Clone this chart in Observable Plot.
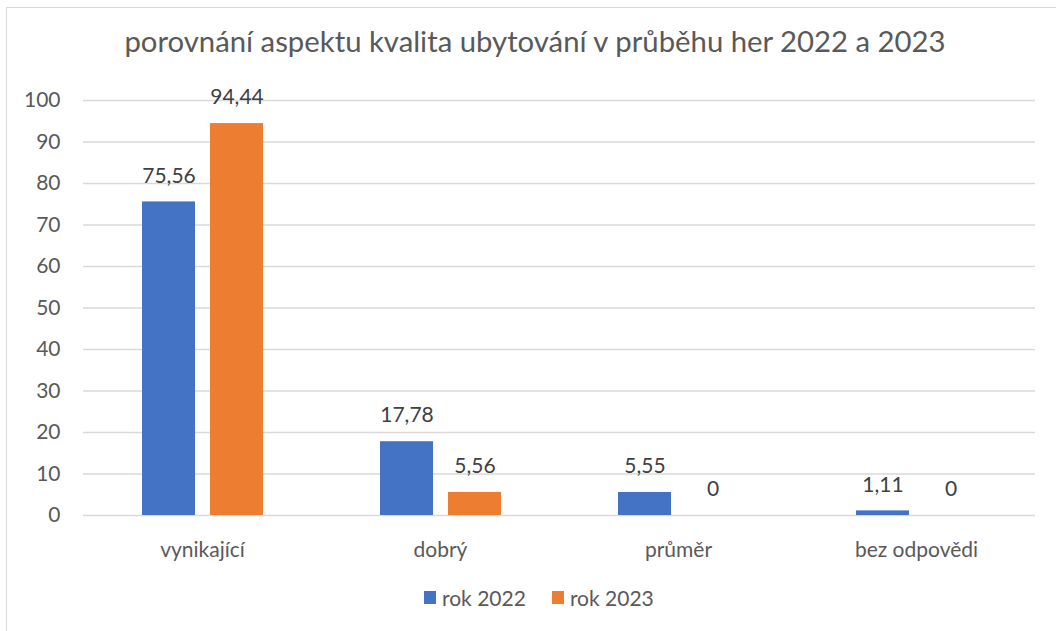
<!DOCTYPE html>
<html>
<head>
<meta charset="utf-8">
<script src="https://cdn.jsdelivr.net/npm/d3@7"></script>
<script src="https://cdn.jsdelivr.net/npm/@observablehq/plot@0.6"></script>
<style>
  html, body { margin: 0; padding: 0; background: #fff; overflow: hidden; }
  #wrap { position: relative; width: 1056px; height: 631px; overflow: hidden; font-family: Lato, sans-serif; color: #595959; }
  #frame { position: absolute; left: 6px; top: 7px; width: 1100px; height: 700px; border: 1px solid #d9d9d9; box-sizing: border-box; }
  #title { position: absolute; left: 0; width: 1070px; top: 23px; text-align: center; font-size: 29.3px; white-space: nowrap; }
  #chart { position: absolute; left: 0; top: 0; }
  #legend { position: absolute; top: 585px; left: 424px; font-size: 21px; white-space: nowrap; display: flex; align-items: center; }
  .sw { display: inline-block; width: 12px; height: 13px; margin-right: 6px; }
  .item { display: inline-flex; align-items: center; margin-right: 26px; }
</style>
</head>
<body>
<div id="wrap">
  <div id="frame"></div>
  <div id="title"></div>
  <div id="chart"></div>
  <div id="legend"></div>
</div>
<script>
const title = "porovnání aspektu kvalita ubytování v průběhu her 2022 a 2023";
const categories = ["vynikající", "dobrý", "průměr", "bez odpovědi"];
const series = ["rok 2022", "rok 2023"];
const values2022 = [75.56, 17.78, 5.55, 1.11];
const values2023 = [94.44, 5.56, 0, 0];
const colors = ["#4472C4", "#ED7D31"];
const yTicks = [0, 10, 20, 30, 40, 50, 60, 70, 80, 90, 100];

const data = [];
categories.forEach((c, i) => {
  data.push({cat: c, series: series[0], value: values2022[i]});
  data.push({cat: c, series: series[1], value: values2023[i]});
});
const fmt = v => String(v).replace(".", ",");

document.getElementById("title").textContent = title;

const plot = Plot.plot({
  width: 1056,
  height: 631,
  marginLeft: 83,
  marginRight: 21,
  marginTop: 100,
  marginBottom: 116,
  style: {fontFamily: "Lato, sans-serif", fontSize: "21px", color: "#595959", background: "transparent"},
  fx: {domain: categories, padding: 0, label: null},
  x: {domain: series, paddingInner: 0.2206, paddingOuter: 0.853, axis: null},
  y: {domain: [0, 100], label: null},
  color: {domain: series, range: colors},
  marks: [
    Plot.gridY(yTicks, {stroke: "#d9d9d9", strokeOpacity: 1, strokeWidth: 1.3}),
    Plot.axisY(yTicks, {tickSize: 0, tickPadding: 23, label: null, fill: "#595959", fontSize: 21}),
    Plot.axisFx({anchor: "bottom", tickSize: 0, tickPadding: 27, label: null, fill: "#595959", fontSize: 21}),
    Plot.barY(data, {fx: "cat", x: "series", y: "value", fill: "series"}),
    Plot.text(data, {fx: "cat", x: "series", y: "value", text: d => fmt(d.value), dy: -26, fill: "#404040", fontSize: 21})
  ]
});
document.getElementById("chart").appendChild(plot);

const legend = document.getElementById("legend");
series.forEach((s, i) => {
  const item = document.createElement("span");
  item.className = "item";
  const sw = document.createElement("span");
  sw.className = "sw";
  sw.style.background = colors[i];
  item.appendChild(sw);
  item.appendChild(document.createTextNode(s));
  legend.appendChild(item);
});
</script>
</body>
</html>
